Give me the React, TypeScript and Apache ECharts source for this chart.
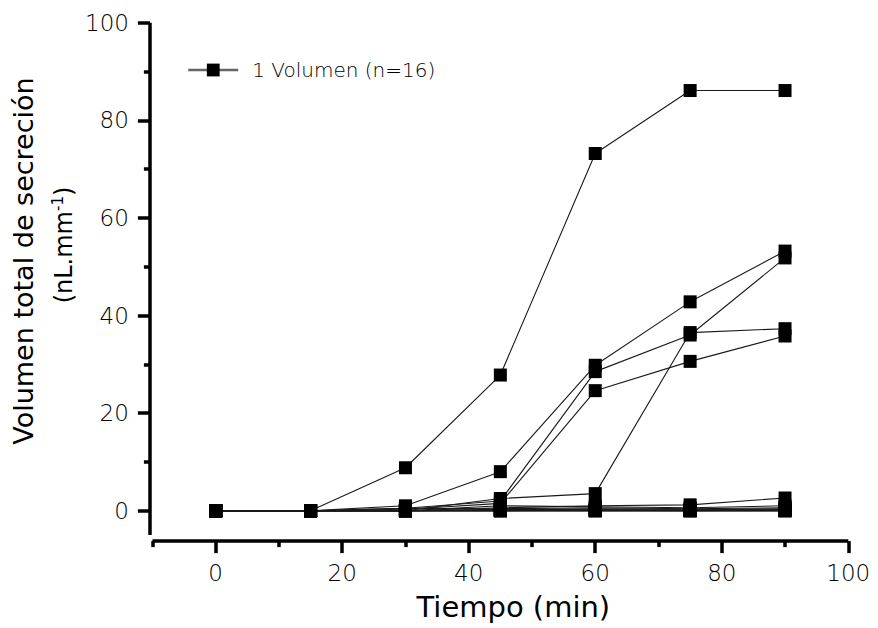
import React, { useEffect, useRef } from "react";
import * as echarts from "echarts";

const times = [0, 15, 30, 45, 60, 75, 90];

const subject1 = [0, 0, 8.8, 27.8, 73.2, 86.1, 86.1];
const subject2 = [0, 0, 1, 8, 29.8, 42.8, 53.2];
const subject3 = [0, 0, 0.5, 2, 28.5, 36, 51.8];
const subject4 = [0, 0, 0.3, 1.5, 24.6, 30.6, 35.8];
const subject5 = [0, 0, 0, 2.5, 3.5, 36.5, 37.3];
const subject6 = [0, 0, 0, 0.6, 1, 1.2, 2.6];
const subject7 = [0, 0, 0, 1, 0.8, 0.6, 1];
const subject8 = [0, 0, 0.5, 0.4, 0.6, 0.4, 0.6];
const subject9 = [0, 0, 0, 0.2, 0.4, 0.3, 0.3];
const subject10 = [0, 0, 0, 0.3, 0.2, 0.2, 0.4];
const subject11 = [0, 0, 0, 0, 0.2, 0.1, 0.2];
const subject12 = [0, 0, 0, 0.1, 0.1, 0, 0.1];
const subject13 = [0, 0, 0, 0, 0, 0, 0];
const subject14 = [0, 0, 0, 0, 0, 0, 0];
const subject15 = [0, 0, 0, 0, 0, 0, 0];
const subject16 = [0, 0, 0, 0, 0, 0, 0];

const subjects = [
  subject1, subject2, subject3, subject4, subject5, subject6, subject7, subject8,
  subject9, subject10, subject11, subject12, subject13, subject14, subject15, subject16,
];

const seriesName = "1 Volumen (n=16)";
const xMajorTicks = [0, 20, 40, 60, 80, 100];
const xMinorTicks = [-10, 10, 30, 50, 70, 90];
const yMajorTicks = [0, 20, 40, 60, 80, 100];
const yMinorTicks = [10, 30, 50, 70, 90];

const FONT = "DejaVu Sans";

export default function App() {
  const ref = useRef<HTMLDivElement>(null);

  useEffect(() => {
    if (!ref.current) return;
    const chart = echarts.init(ref.current, null, { renderer: "svg" });

    const ls = () => ({ color: "#000", width: 3.5, cap: "butt" as const });
    const labelStyle = () => ({
      fontFamily: FONT,
      fontSize: 23,
      fontWeight: 200 as any,
      color: "#000",
    });

    const series = subjects.map((vals) => ({
      type: "line",
      name: seriesName,
      xAxisIndex: 0,
      yAxisIndex: 0,
      data: times.map((t, i) => [t, vals[i]]),
      symbol: "rect",
      symbolSize: 13,
      showAllSymbol: true,
      lineStyle: { color: "#1a1a1a", width: 1.1 },
      itemStyle: { color: "#000" },
    }));

    chart.setOption({
      animation: false,
      backgroundColor: "#fff",
      grid: { left: 152.4, right: 29.7, top: 22.7, bottom: 92.9, containLabel: false },
      legend: {
        data: [seriesName],
        left: 182,
        top: 55,
        itemWidth: 50,
        itemHeight: 16,
        lineStyle: { color: "#666", width: 2.5 },
        itemStyle: { color: "#000" },
        textStyle: { fontFamily: FONT, fontSize: 20, fontWeight: 200 as any, color: "#000", padding: [0, 0, 0, 9] },
        selectedMode: false,
      },
      xAxis: [
        {
          type: "value",
          min: -10,
          max: 100,
          position: "bottom",
          offset: 6,
          axisLine: { show: true, onZero: false, lineStyle: ls() },
          axisTick: { show: true, customValues: xMajorTicks, length: 12, lineStyle: ls() },
          axisLabel: { customValues: xMajorTicks, margin: 20, ...labelStyle() },
          splitLine: { show: false },
          name: "Tiempo (min)",
          nameLocation: "middle",
          nameGap: 51,
          nameTextStyle: { fontFamily: FONT, fontSize: 29, color: "#000", padding: [0, 0, 0, 26] },
        },
        {
          type: "value",
          min: -10,
          max: 100,
          position: "bottom",
          offset: 6,
          axisLine: { show: false, onZero: false },
          axisTick: { show: true, customValues: xMinorTicks, length: 6, lineStyle: ls() },
          axisLabel: { show: false },
          splitLine: { show: false },
        },
      ],
      yAxis: [
        {
          type: "value",
          min: -5,
          max: 100,
          position: "left",
          offset: 2.5,
          axisLine: { show: true, onZero: false, lineStyle: ls() },
          axisTick: { show: true, customValues: yMajorTicks, length: 12, lineStyle: ls() },
          axisLabel: { customValues: yMajorTicks, margin: 21, ...labelStyle() },
          splitLine: { show: false },
        },
        {
          type: "value",
          min: -5,
          max: 100,
          position: "left",
          offset: 2.5,
          axisLine: { show: false, onZero: false },
          axisTick: { show: true, customValues: yMinorTicks, length: 6, lineStyle: ls() },
          axisLabel: { show: false },
          splitLine: { show: false },
        },
      ],
      graphic: [
        {
          type: "text",
          x: 23,
          y: 261,
          rotation: Math.PI / 2,
          style: {
            text: "Volumen total de secreción",
            fontFamily: FONT,
            fontSize: 27,
            fill: "#000",
            align: "center",
            verticalAlign: "middle",
          },
        },
        {
          type: "text",
          x: 64,
          y: 245,
          rotation: Math.PI / 2,
          style: {
            text: "(nL.mm{sup|-1})",
            fontFamily: FONT,
            fontSize: 24,
            fill: "#000",
            align: "center",
            verticalAlign: "middle",
            rich: {
              sup: { fontFamily: FONT, fontSize: 15, fill: "#000", verticalAlign: "top", padding: [0, 0, 12, 0] },
            },
          },
        },
      ],
      series,
    });

    return () => chart.dispose();
  }, []);

  return (
    <div
      ref={ref}
      style={{ position: "fixed", left: 0, top: 0, width: 878, height: 628, background: "#fff" }}
    />
  );
}
